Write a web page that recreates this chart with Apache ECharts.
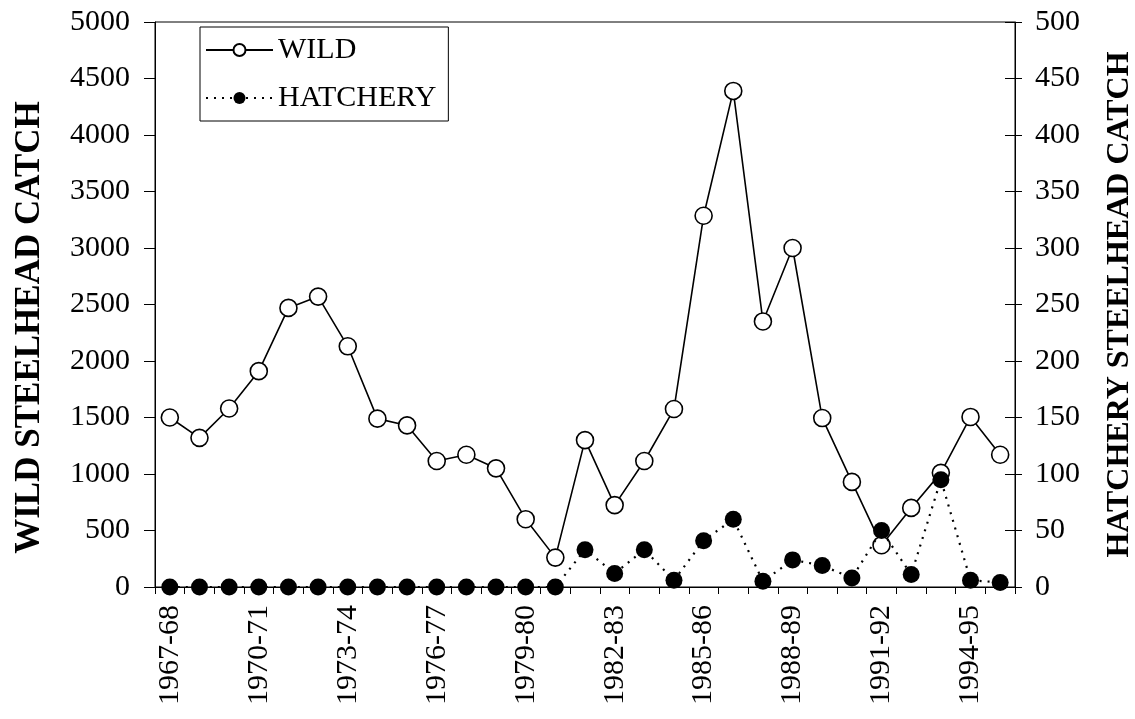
<!DOCTYPE html>
<html>
<head>
<meta charset="utf-8">
<script src="https://cdn.jsdelivr.net/npm/echarts@6/dist/echarts.min.js"></script>
<style>
  html, body { margin: 0; padding: 0; background: #fff; }
  #chart { width: 1135px; height: 719px; }
</style>
</head>
<body>
<div id="chart"></div>
<script>
const seasons = [
  '1967-68', '1968-69', '1969-70', '1970-71', '1971-72', '1972-73', '1973-74',
  '1974-75', '1975-76', '1976-77', '1977-78', '1978-79', '1979-80', '1980-81',
  '1981-82', '1982-83', '1983-84', '1984-85', '1985-86', '1986-87', '1987-88',
  '1988-89', '1989-90', '1990-91', '1991-92', '1992-93', '1993-94', '1994-95',
  '1995-96'
]
const wild = [
  1500, 1320, 1580, 1910, 2470, 2570, 2130, 1490, 1430, 1115, 1170, 1050, 600, 260,
  1300, 725, 1115, 1575, 3285, 4390, 2350, 3000, 1495, 930, 370, 700, 1010, 1505, 1170
]
const hatchery = [
  0, 0, 0, 0, 0, 0, 0, 0, 0, 0, 0, 0, 0, 0,
  33, 12, 33, 6, 41, 60, 5, 24, 19, 8, 50, 11, 95, 6, 4
]

const font = 'Liberation Serif'
const black = '#000'

const chart = echarts.init(document.getElementById('chart'))
chart.setOption({
  animation: false,
  textStyle: { fontFamily: font, color: black },
  grid: {
    left: 155, right: 120, top: 22, bottom: 132,
    outerBoundsMode: 'none', containLabel: false,
    show: true, borderColor: black, borderWidth: 1
  },
  legend: {
    left: 200, top: 27, orient: 'vertical',
    borderColor: black, borderWidth: 1, borderRadius: 0,
    padding: [6, 12, 6, 5], itemGap: 14,
    itemWidth: 67, itemHeight: 15,
    textStyle: { fontFamily: font, fontSize: 30, lineHeight: 34, color: black },
    data: ['WILD', 'HATCHERY']
  },
  xAxis: {
    type: 'category',
    data: seasons,
    boundaryGap: true,
    axisLine: { lineStyle: { color: black, width: 1 } },
    axisTick: { show: true, interval: 0, length: 7, lineStyle: { color: black } },
    axisLabel: {
      interval: 2, rotate: 90, fontFamily: font, fontSize: 30, color: black, margin: 18
    },
    splitLine: { show: false }
  },
  yAxis: [
    {
      type: 'value', min: 0, max: 5000, interval: 500,
      name: 'WILD STEELHEAD CATCH', nameLocation: 'middle', nameGap: 108, nameRotate: 90,
      nameTextStyle: {
        fontFamily: font, fontSize: 35, fontWeight: 'bold', color: black,
        padding: [0, 46, 0, 0]
      },
      axisLine: { show: true, lineStyle: { color: black } },
      axisTick: { show: true, length: 11, lineStyle: { color: black } },
      axisLabel: { fontFamily: font, fontSize: 30, color: black, margin: 25, formatter: (v) => String(v) },
      splitLine: { show: false }
    },
    {
      type: 'value', min: 0, max: 500, interval: 50, position: 'right',
      name: 'HATCHERY STEELHEAD CATCH', nameLocation: 'middle', nameGap: 89, nameRotate: 90,
      nameTextStyle: { fontFamily: font, fontSize: 32, fontWeight: 'bold', color: black },
      axisLine: { show: true, lineStyle: { color: black } },
      axisTick: { show: true, length: 7, lineStyle: { color: black } },
      axisLabel: { fontFamily: font, fontSize: 30, color: black, margin: 20, formatter: (v) => String(v) },
      splitLine: { show: false }
    },
    {
      // inner half of the right-hand cross ticks
      type: 'value', min: 0, max: 500, interval: 50, position: 'right',
      axisLine: { show: false },
      axisTick: { show: true, inside: true, length: 10, lineStyle: { color: black } },
      axisLabel: { show: false },
      splitLine: { show: false }
    }
  ],
  series: [
    {
      name: 'WILD',
      type: 'line',
      yAxisIndex: 0,
      data: wild,
      symbol: 'circle',
      symbolSize: 17,
      itemStyle: { color: '#fff', borderColor: black, borderWidth: 1.6 },
      lineStyle: { color: black, width: 1.6 },
      z: 3
    },
    {
      name: 'HATCHERY',
      type: 'line',
      yAxisIndex: 1,
      data: hatchery,
      symbol: 'circle',
      symbolSize: 17,
      itemStyle: { color: black, borderColor: black, borderWidth: 0 },
      lineStyle: { color: black, width: 2.2, type: [2, 6] },
      z: 4
    }
  ]
})
</script>
</body>
</html>
